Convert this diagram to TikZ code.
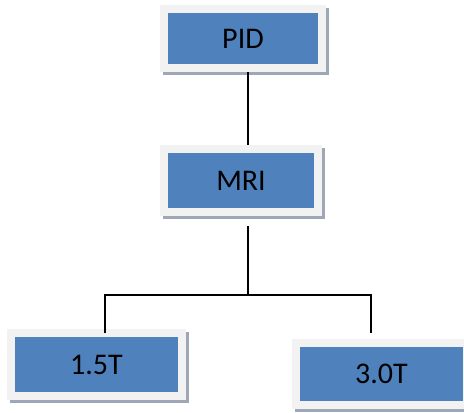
\documentclass[tikz,border=0pt]{standalone}
\usepackage{fontspec}
\setmainfont{Carlito}
\usetikzlibrary{shadows}
\definecolor{boxblue}{HTML}{4F81BD}
\definecolor{framegray}{HTML}{F2F2F2}
\definecolor{shadowgray}{HTML}{9DA7B6}
\begin{document}
\begin{tikzpicture}[x=1pt,y=-1pt,
  orgbox/.style={rectangle, inner sep=0pt, fill=framegray, font=\fontsize{30}{34}\selectfont,
    drop shadow={shadow xshift=3pt, shadow yshift=-3pt, fill=shadowgray, opacity=1},
    path picture={\fill[boxblue] ([shift={(8pt,8pt)}]path picture bounding box.south west) rectangle ([shift={(-8pt,-8pt)}]path picture bounding box.north east);}},
  link/.style={draw=black, line width=2pt}]
\useasboundingbox (0,0) rectangle (464,413);
\begin{scope}
\clip (0,0) rectangle (464,413);
\node[orgbox, minimum width=166pt, minimum height=67pt] (pid) at (243,38.5) {PID};
\node[orgbox, minimum width=162pt, minimum height=71pt] (mri) at (241,180.5) {MRI};
\node[orgbox, minimum width=179pt, minimum height=71pt] (b15) at (96.5,364.5) {1.5T};
\node[orgbox, minimum width=179pt, minimum height=70pt] (b30) at (381.5,374) {3.0T};
\end{scope}
\coordinate (j) at (248,295);
\coordinate (jl) at (105,295);
\coordinate (jr) at (371,295);
\coordinate (el) at (105,333);
\coordinate (er) at (371,333);
\draw[link] (pid.south -| j) -- (mri.north -| j);
\draw[link] ([yshift=-10pt]mri.south -| j) -- (j);
\draw[link] (el) -- (jl) -- (jr) -- (er);
\end{tikzpicture}
\end{document}
